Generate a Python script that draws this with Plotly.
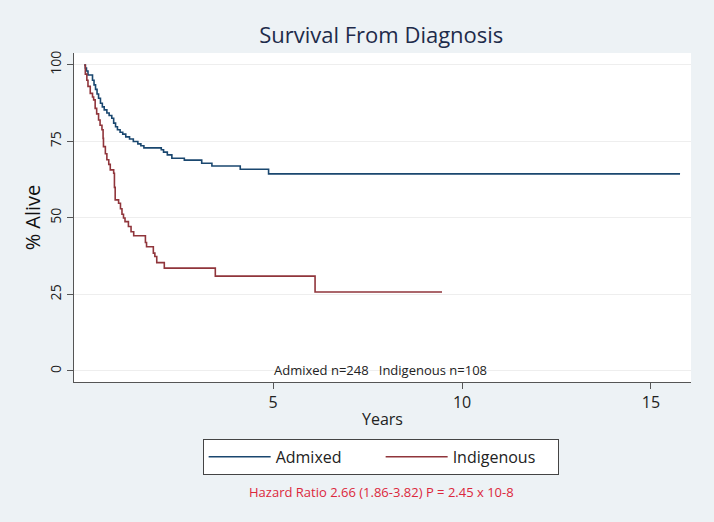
import plotly.graph_objects as go

# Kaplan-Meier step data (years, % alive after event)
admixed_t = [0, 0.03, 0.06, 0.10, 0.22, 0.26, 0.30, 0.34, 0.38, 0.43, 0.48, 0.53, 0.60,
             0.66, 0.73, 0.78, 0.83, 0.88, 0.95, 1.02, 1.10, 1.20, 1.30, 1.42, 1.50,
             1.58, 2.04, 2.10, 2.20, 2.32, 2.65, 3.11, 3.38, 4.13, 4.88, 15.77]
admixed_s = [100, 99, 98, 96.7, 95, 93.5, 92, 90.5, 89.1, 87.5, 86.3, 85.3, 84.3,
             83.5, 82.6, 81, 79.8, 78.8, 78, 77.4, 76.5, 75.8, 75, 74.2, 73.6,
             72.9, 72.3, 71.5, 70.6, 69.5, 68.9, 67.9, 67.0, 65.9, 64.4, 64.4]

indig_t = [0, 0.03, 0.07, 0.10, 0.16, 0.22, 0.25, 0.29, 0.33, 0.38, 0.42, 0.47, 0.50,
           0.51, 0.56, 0.60, 0.65, 0.69, 0.78, 0.80, 0.82, 0.91, 0.96, 1.00, 1.04,
           1.08, 1.17, 1.24, 1.31, 1.62, 1.65, 1.83, 1.87, 1.92, 2.12, 3.47, 6.11, 9.47]
indig_s = [100, 97, 95, 93, 90.7, 89.5, 88.6, 85.8, 84, 82, 80.3, 78.8, 76,
           73.3, 71, 69, 67.5, 65.7, 64.6, 60, 55.9, 54.8, 53, 51.2, 50,
           48.8, 47.2, 45.5, 44.2, 42, 40.6, 38.5, 37.4, 35.4, 33.6, 31.0, 25.8, 25.8]

y_ticks = [0, 25, 50, 75, 100]
x_ticks = [5, 10, 15]

NAVY = "rgb(26,71,111)"
MAROON = "rgb(144,53,59)"
FONT = "Open Sans"

fig = go.Figure()
fig.add_trace(go.Scatter(x=admixed_t, y=admixed_s, mode="lines", line_shape="hv",
                         line=dict(color=NAVY, width=1.6), name="Admixed"))
fig.add_trace(go.Scatter(x=indig_t, y=indig_s, mode="lines", line_shape="hv",
                         line=dict(color=MAROON, width=1.6), name="Indigenous"))

fig.update_layout(
    width=714, height=522,
    margin=dict(l=74, r=23, t=53, b=140),
    paper_bgcolor="#EDF2F5", plot_bgcolor="white",
    font=dict(family=FONT, color="#222"),
    title=dict(text="Survival From Diagnosis", x=0.534, xanchor="center", y=0.933, yanchor="middle",
               font=dict(size=22, color="#1e2b4a", family=FONT)),
    showlegend=True,
    legend=dict(orientation="h", x=0.497, xanchor="center", y=-0.173, yanchor="top",
                bgcolor="white", bordercolor="#444", borderwidth=1,
                font=dict(size=16, color="#222", family=FONT),
                itemwidth=62, entrywidth=100),
)
fig.update_xaxes(range=[-0.27, 16.06], tickvals=x_ticks, ticks="outside", ticklen=6,
                 tickcolor="#555", showline=True, linecolor="#555", linewidth=1,
                 showgrid=False, zeroline=False, automargin=False,
                 tickfont=dict(size=16, color="#222"),
                 title=dict(text="Years", font=dict(size=16, color="#222"), standoff=1))
fig.update_yaxes(range=[-3.6, 103.9], tickvals=y_ticks, ticks="outside", ticklen=6,
                 tickcolor="#555", showline=True, linecolor="#555", linewidth=1,
                 showgrid=True, gridcolor="#EEEEEE", zeroline=False, tickangle=-90,
                 automargin=False,
                 tickfont=dict(size=14, color="#222"),
                 title=dict(text="% Alive", font=dict(size=20, color="#111"), standoff=0))

fig.add_annotation(text="Admixed n=248   Indigenous n=108", x=0.497, y=0.036,
                   xref="paper", yref="paper", showarrow=False, xanchor="center", yanchor="middle",
                   font=dict(size=13, color="#222"))
fig.add_annotation(text="Hazard Ratio 2.66 (1.86-3.82) P = 2.45 x 10-8", x=0.499, y=-0.335,
                   xref="paper", yref="paper", showarrow=False, xanchor="center", yanchor="middle",
                   font=dict(size=13, color="rgb(220,40,60)"))

fig.write_html("out.html", config={"displayModeBar": False},
               post_script="document.body.style.margin='0';")
